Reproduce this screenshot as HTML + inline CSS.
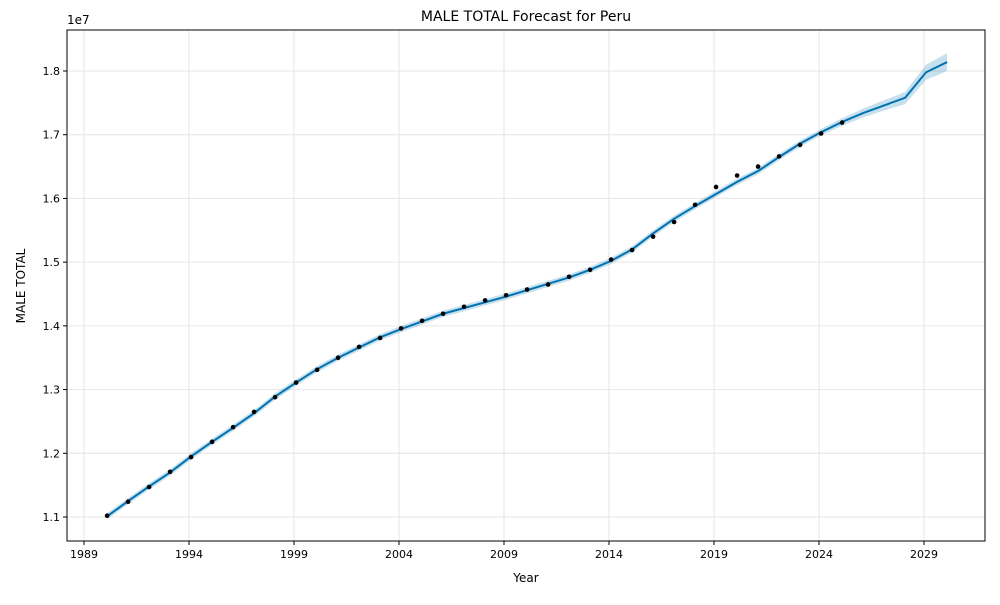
<!DOCTYPE html>
<html><head><meta charset="utf-8"><style>
body{margin:0;background:#fff;font-family:"Liberation Sans","DejaVu Sans",sans-serif}
svg text{font-family:"DejaVu Sans","Liberation Sans",sans-serif}
</style></head><body>
<svg id="chart" width="1000" height="600" xmlns="http://www.w3.org/2000/svg">
<rect width="1000" height="600" fill="#fff"/>
<text x="526" y="21" font-size="14" text-anchor="middle">MALE TOTAL Forecast for Peru</text>
<text x="67" y="24" font-size="12">1e7</text>
<text x="526" y="582" font-size="12" text-anchor="middle">Year</text>
<text x="25" y="286" font-size="12" text-anchor="middle" transform="rotate(-90 25 286)">MALE TOTAL</text>
<g id="grid"></g><g id="band"></g><g id="line"></g><g id="pts"></g><g id="axes"></g>
</svg>
<script>
const obsYears=[1990,1991,1992,1993,1994,1995,1996,1997,1998,1999,2000,2001,2002,2003,2004,2005,2006,2007,2008,2009,2010,2011,2012,2013,2014,2015,2016,2017,2018,2019,2020,2021,2022,2023,2024,2025];
const obsValues=[1.102,1.124,1.147,1.171,1.194,1.218,1.241,1.265,1.288,1.311,1.331,1.350,1.367,1.381,1.396,1.408,1.419,1.430,1.440,1.448,1.457,1.465,1.477,1.488,1.504,1.519,1.540,1.563,1.590,1.618,1.636,1.650,1.666,1.684,1.702,1.719];
const fcYears=[1990,1991,1992,1993,1994,1995,1996,1997,1998,1999,2000,2001,2002,2003,2004,2005,2006,2007,2008,2009,2010,2011,2012,2013,2014,2015,2016,2017,2018,2019,2020,2021,2022,2023,2024,2025,2026,2027,2028,2029,2030];
const fcValues=[1.101,1.125,1.148,1.170,1.195,1.218,1.240,1.263,1.289,1.311,1.332,1.350,1.366,1.382,1.395,1.407,1.419,1.428,1.437,1.446,1.456,1.466,1.476,1.488,1.502,1.520,1.545,1.568,1.588,1.607,1.626,1.643,1.665,1.686,1.704,1.720,1.734,1.746,1.758,1.798,1.814];
const fcLower=[1.096,1.120,1.143,1.165,1.190,1.213,1.235,1.258,1.284,1.306,1.327,1.345,1.361,1.377,1.390,1.402,1.414,1.423,1.432,1.441,1.451,1.461,1.471,1.483,1.497,1.515,1.540,1.563,1.583,1.602,1.621,1.638,1.660,1.681,1.699,1.714,1.727,1.738,1.748,1.786,1.800];
const fcUpper=[1.106,1.130,1.153,1.175,1.200,1.223,1.245,1.268,1.294,1.316,1.337,1.355,1.371,1.387,1.400,1.412,1.424,1.433,1.442,1.451,1.461,1.471,1.481,1.493,1.507,1.525,1.550,1.573,1.593,1.612,1.631,1.648,1.670,1.691,1.709,1.726,1.741,1.754,1.767,1.810,1.828];
const xTicks=[1989,1994,1999,2004,2009,2014,2019,2024,2029];
const yTicks=[1.1,1.2,1.3,1.4,1.5,1.6,1.7,1.8];
const L=67,R=985,T=30,B=541;
const X=y=>84+(y-1989)*(924-84)/40;
const XD=y=>X(y+0.1);
const Y=v=>517-(v-1.1)*(517-71)/0.7;
const NS="http://www.w3.org/2000/svg";
function mk(tag,attrs,parent){const e=document.createElementNS(NS,tag);for(const k in attrs)e.setAttribute(k,attrs[k]);document.getElementById(parent).appendChild(e);return e;}
xTicks.forEach(t=>{
 const g=mk('line',{x1:X(t),x2:X(t),y1:T,y2:B,stroke:'#e6e6e6','stroke-width':1},'grid');
 
 
 const tk=mk('line',{x1:X(t),x2:X(t),y1:B,y2:B+4,stroke:'#000'},'axes');
 
 
 const tx=mk('text',{x:X(t),y:B+17,'font-size':11,'text-anchor':'middle'},'axes');tx.textContent=t;
 
 
});
yTicks.forEach(t=>{
 const g=mk('line',{x1:L,x2:R,y1:Y(t),y2:Y(t),stroke:'#e6e6e6','stroke-width':1},'grid');
 
 
 const tk=mk('line',{x1:L-4,x2:L,y1:Y(t),y2:Y(t),stroke:'#000'},'axes');
 
 
 const tx=mk('text',{x:L-7,y:Y(t)+4,'font-size':11,'text-anchor':'end'},'axes');tx.textContent=t.toFixed(1);
 
 
});
let bp=fcYears.map((y,i)=>XD(y)+','+Y(fcUpper[i])).join(' ')+' '+fcYears.slice().reverse().map((y,j)=>XD(y)+','+Y(fcLower[fcYears.length-1-j])).join(' ');
const band=mk('polygon',{points:bp,fill:'#0072B2','fill-opacity':0.22,stroke:'none'},'band');


const ln=mk('polyline',{points:fcYears.map((y,i)=>XD(y)+','+Y(fcValues[i])).join(' '),fill:'none',stroke:'#0072B2','stroke-width':2},'line');


obsYears.forEach((y,i)=>{
 const c=mk('circle',{cx:XD(y),cy:Y(obsValues[i]),r:2.3,fill:'#000'},'pts');
 
 
});
const fr=mk('rect',{x:L,y:T,width:R-L,height:B-T,fill:'none',stroke:'#000','stroke-width':1},'axes');


</script>
</body></html>
